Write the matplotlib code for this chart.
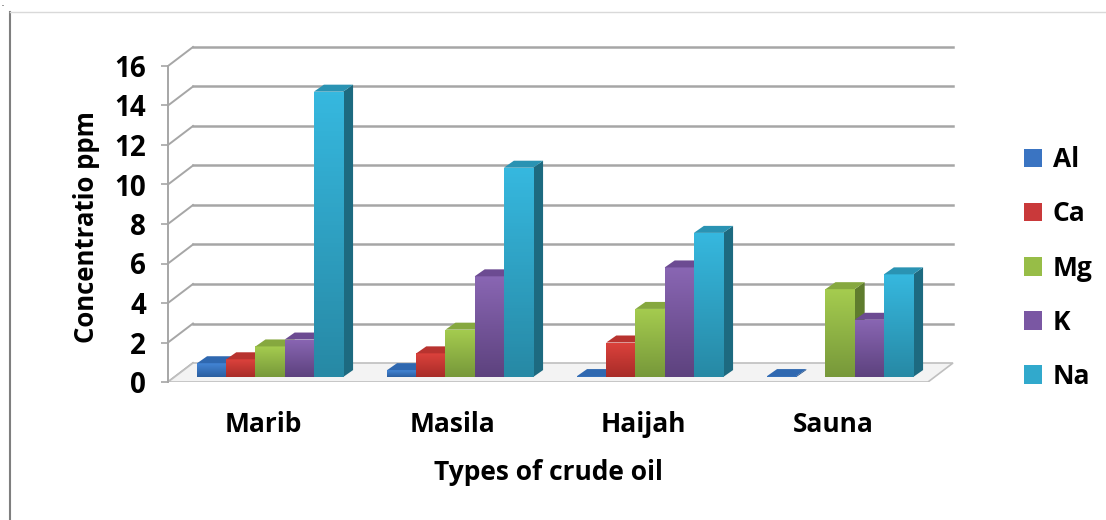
import numpy as np
import matplotlib.pyplot as plt
from matplotlib.patches import Polygon, Patch
from matplotlib.colors import to_rgb

oils = ['Marib', 'Masila', 'Haijah', 'Sauna']
elements = ['Al', 'Ca', 'Mg', 'K', 'Na']
al = [0.7, 0.35, 0.05, 0.05]
ca = [0.9, 1.2, 1.75, 0.0]
mg = [1.55, 2.4, 3.45, 4.45]
k = [1.9, 5.1, 5.55, 2.9]
na = [14.45, 10.6, 7.3, 5.2]
values = [al, ca, mg, k, na]

# front (top, bottom), side, top face colours
front_top = ['#4385d6', '#dc423c', '#a5cc4f', '#8966b3', '#36b8df']
front_bot = ['#2b5fa0', '#a82c28', '#77983a', '#5d427e', '#2789a5']
side_col = ['#244f86', '#86231f', '#5f7c2d', '#4b3466', '#1d6a80']
top_col = ['#2f68b0', '#b8332f', '#86a83f', '#6c4b92', '#2a93b3']
legend_col = ['#3a74c2', '#c9393a', '#97bd47', '#7a57a3', '#31a9cc']

plt.rcParams['font.family'] = ['Open Sans', 'DejaVu Sans']
plt.rcParams['font.weight'] = 'bold'
fs = 19

fig = plt.figure(figsize=(11.06, 5.2), dpi=100)
ax = fig.add_axes([168 / 1106, (520 - 382) / 520, 800 / 1106, 352 / 520])

grid_c = '#a6a6a6'
wdx, wdy = 25 / 190, 19 / 19.75      # back wall offset
bw = 29.2 / 190                      # bar width
bdx, bdy = 10 / 190, 7 / 19.75       # bar depth
x_start = 0.153
base = 0.25

# floor
floor = Polygon([(0, 0), (4, 0), (4 + wdx, wdy), (wdx, wdy)], closed=True,
                facecolor='#f3f3f3', edgecolor='#bfbfbf', lw=1.2, zorder=1)
ax.add_patch(floor)

# back wall gridlines + side wall diagonals
for v in range(0, 17, 2):
    if v > 0:
        ax.plot([wdx, 4 + wdx], [v + wdy, v + wdy], color=grid_c, lw=1.8, zorder=0.5)
    ax.plot([0, wdx], [v, v + wdy], color=grid_c, lw=1.4, zorder=0.5)

# bars
for i in range(len(oils)):
    for j, vals in enumerate(values):
        h = vals[i]
        if h <= 0:
            continue
        x0 = i + x_start + j * bw
        x1 = x0 + bw
        y0, y1 = base, base + h
        bar = ax.bar(x0, h, width=bw, bottom=y0, align='edge', color=front_top[j],
                     lw=0, zorder=2 + i * 10 + j)[0]
        c1 = np.array(to_rgb(front_top[j]))
        c2 = np.array(to_rgb(front_bot[j]))
        t = np.linspace(0, 1, 64)[:, None]
        grad = (c1 * (1 - t) + c2 * t)[:, None, :]
        im = ax.imshow(grad, extent=[x0, x1, y0, y1], origin='upper', aspect='auto',
                       zorder=2 + i * 10 + j)
        im.set_clip_path(bar)
        ax.add_patch(Polygon([(x1, y0), (x1, y1), (x1 + bdx, y1 + bdy), (x1 + bdx, y0 + bdy)],
                             closed=True, facecolor=side_col[j], lw=0,
                             zorder=1.9 + i * 10 + j))
        ax.add_patch(Polygon([(x0, y1), (x1, y1), (x1 + bdx, y1 + bdy), (x0 + bdx, y1 + bdy)],
                             closed=True, facecolor=top_col[j], lw=0,
                             zorder=2.1 + i * 10 + j))

ax.set_xlim(0, 800 / 190)
ax.set_ylim(0, 352 / 19.75)

for s in ['top', 'right', 'bottom']:
    ax.spines[s].set_visible(False)
ax.spines['left'].set_color(grid_c)
ax.spines['left'].set_linewidth(1.4)
ax.spines['left'].set_bounds(0, 16)
ax.set_yticks(range(0, 17, 2))
ax.tick_params(axis='y', length=5, color=grid_c, width=1.2, pad=11, labelsize=20)
ax.set_xticks([i + 0.5 for i in range(len(oils))])
ax.set_xticklabels(oils)
ax.tick_params(axis='x', length=0, pad=21, labelsize=fs)

fig.text(86 / 1106, 1 - 227 / 520, 'Concentratio ppm', rotation=90, ha='center', va='center',
         fontsize=18.5, fontweight='bold')
fig.text(548 / 1106, 1 - 472 / 520, 'Types of crude oil', ha='center', va='center',
         fontsize=fs, fontweight='bold')

handles = [Patch(facecolor=c, edgecolor='none') for c in legend_col]
fig.legend(handles, elements, loc='center left', bbox_to_anchor=(1000 / 1106, 1 - 268 / 520),
           frameon=False, fontsize=fs, labelspacing=1.03, handlelength=0.7, handleheight=0.7,
           handletextpad=0.4)

# chart area frame
fig.add_artist(plt.Line2D([10 / 1106, 10 / 1106], [0, 1 - 12 / 520], color='#7f7f7f', lw=1.5))
fig.add_artist(plt.Line2D([10 / 1106, 1], [1 - 12 / 520, 1 - 12 / 520], color='#d9d9d9', lw=1))
fig.text(0.001, 0.999, '.', fontsize=5, va='top')

fig.savefig('out.png', dpi=100)
